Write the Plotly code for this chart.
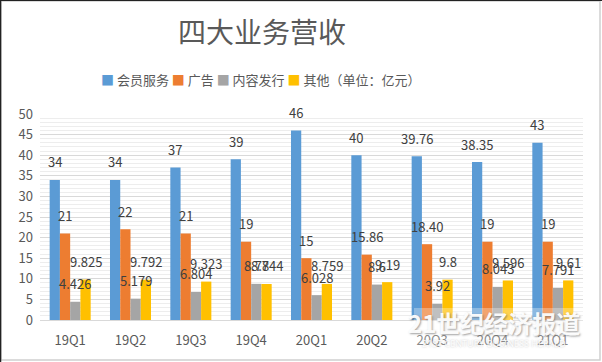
import plotly.graph_objects as go

categories = ["19Q1", "19Q2", "19Q3", "19Q4", "20Q1", "20Q2", "20Q3", "20Q4", "21Q1"]
series_names = ["会员服务", "广告", "内容发行", "其他（单位：亿元）"]
membership = [34, 34, 37, 39, 46, 40, 39.76, 38.35, 43]
membership_text = ["34", "34", "37", "39", "46", "40", "39.76", "38.35", "43"]
advertising = [21, 22, 21, 19, 15, 15.86, 18.40, 19, 19]
advertising_text = ["21", "22", "21", "19", "15", "15.86", "18.40", "19", "19"]
content = [4.426, 5.179, 6.804, 8.78, 6.028, 8.6, 3.92, 8.043, 7.791]
content_text = ["4.426", "5.179", "6.804", "8.78", "6.028", "8.6", "3.92", "8.043", "7.791"]
other = [9.825, 9.792, 9.323, 8.744, 8.759, 9.19, 9.8, 9.596, 9.61]
other_text = ["9.825", "9.792", "9.323", "8.744", "8.759", "9.19", "9.8", "9.596", "9.61"]
y_ticks = [0, 5, 10, 15, 20, 25, 30, 35, 40, 45, 50]

colors = ["#5B9BD5", "#ED7D31", "#A5A5A5", "#FFC000"]
values = [membership, advertising, content, other]
texts = [membership_text, advertising_text, content_text, other_text]

W, H = 602, 362
ML, MR, MT, MB = 40, 19, 114, 42
plot_w = W - ML - MR
ph = H - MT - MB
bargap = 0.32
cat_w = plot_w / len(categories)
bar_w = cat_w * (1 - bargap) / 4


def px_x(px):
    return (px - ML) / plot_w


def px_y(py):
    return (H - MB - py) / ph


fig = go.Figure()
for i, (name, vals) in enumerate(zip(series_names, values)):
    fig.add_trace(go.Bar(x=categories, y=vals, name=name, marker_color=colors[i],
                         marker_line_width=0, showlegend=False, hoverinfo="skip"))

annotations = []
for i, (vals, txts) in enumerate(zip(values, texts)):
    shift = (i - 1.5) * bar_w
    for c, v, t in zip(categories, vals, txts):
        annotations.append(dict(x=c, y=v, text=t, showarrow=False, xshift=shift, yshift=18,
                                yanchor="middle", xanchor="center",
                                font=dict(size=13, color="#404040", family="Noto Sans CJK SC")))

# legend (compact, Excel-like)
legend_parts = []
for name, col in zip(series_names, colors):
    legend_parts.append(f"<span style='color:{col}'>■</span> {name}")
annotations.append(dict(xref="paper", yref="paper", x=px_x(260), y=px_y(79),
                        xanchor="center", yanchor="middle", showarrow=False,
                        text=" ".join(legend_parts),
                        font=dict(size=13, color="#595959", family="Noto Sans CJK SC")))

# watermark
annotations.append(dict(xref="paper", yref="paper", x=px_x(494), y=px_y(322),
                        xanchor="center", yanchor="middle",
                        text="<b>21世纪经济报道</b>", showarrow=False,
                        font=dict(size=24, color="rgba(255,255,255,0.95)", family="Noto Sans CJK SC",
                                  shadow="1px 1px 2px rgba(90,90,90,0.6)")))
annotations.append(dict(xref="paper", yref="paper", x=px_x(494), y=px_y(343),
                        xanchor="center", yanchor="middle",
                        text="21ST CENTURY BUSINESS HERALD", showarrow=False,
                        font=dict(size=9, color="rgba(255,255,255,0.95)", family="Noto Sans",
                                  shadow="0px 0px 2px rgba(120,120,120,0.5)")))

shapes = [
    dict(type="rect", xref="paper", yref="paper",
         x0=px_x(1), x1=px_x(600), y0=px_y(360), y1=px_y(1),
         line=dict(color="#D0D0D0", width=1.5), layer="below"),
    dict(type="line", xref="paper", yref="paper",
         x0=px_x(0.5), x1=px_x(0.5), y0=px_y(H), y1=px_y(0),
         line=dict(color="#222222", width=1.5)),
    dict(type="line", xref="paper", yref="paper",
         x0=px_x(0), x1=px_x(W), y0=px_y(0.5), y1=px_y(0.5),
         line=dict(color="#222222", width=1)),
    dict(type="rect", xref="paper", yref="paper",
         x0=px_x(414), x1=px_x(586), y0=px_y(354), y1=px_y(308),
         fillcolor="rgba(255,255,255,0.3)", line=dict(width=0), layer="above"),
]

fig.update_layout(
    width=W, height=H,
    margin=dict(l=ML, r=MR, t=MT, b=MB, autoexpand=False),
    paper_bgcolor="white", plot_bgcolor="white",
    barmode="group", bargap=bargap, bargroupgap=0,
    font=dict(family="Noto Sans CJK SC", color="#595959"),
    title=dict(text="四大业务营收", x=262 / W, xanchor="center", y=1 - 33 / H, yanchor="middle",
               font=dict(size=28, color="#595959", family="Noto Sans CJK SC")),
    showlegend=False,
    hovermode=False,
    annotations=annotations,
    shapes=shapes,
)
fig.update_xaxes(showgrid=False, showline=True, linecolor="#D9D9D9", linewidth=1,
                 ticks="", tickfont=dict(size=13, color="#595959"), ticklabelstandoff=8)
fig.update_yaxes(range=[0, 50], tickvals=y_ticks, showgrid=True, gridcolor="#D9D9D9",
                 gridwidth=1, zeroline=False, showline=False, ticks="",
                 tickfont=dict(size=13, color="#595959"), ticklabelstandoff=6,
                 minor=dict(dtick=1, showgrid=True, gridcolor="#EDEDED", gridwidth=1))

fig.write_html("out.html", config={"displayModeBar": False},
               post_script="document.body.style.margin='0';")
